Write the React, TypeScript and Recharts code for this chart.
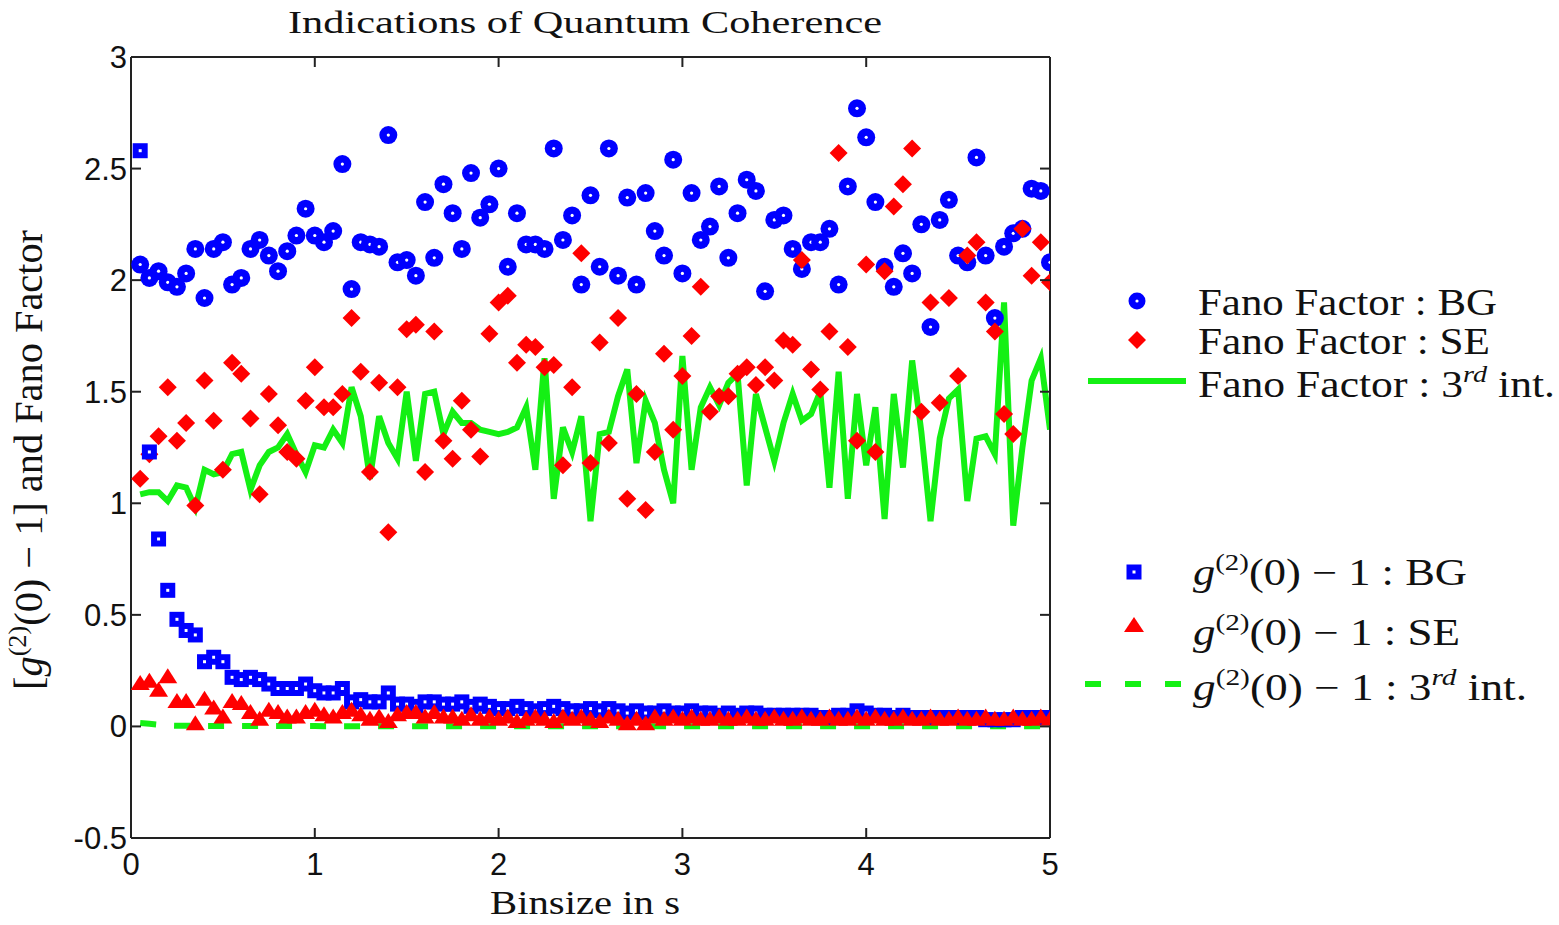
import { ComposedChart, Line, Scatter, XAxis, YAxis } from "recharts";

const binStep = 0.05;

const fanoBG = [
  2.07, 2.01, 2.04, 1.99, 1.97, 2.03, 2.14, 1.92, 2.14, 2.17,
  1.98, 2.01, 2.14, 2.18, 2.11, 2.04, 2.13, 2.2, 2.32, 2.2,
  2.17, 2.22, 2.52, 1.96, 2.17, 2.16, 2.15, 2.65, 2.08, 2.09,
  2.02, 2.35, 2.1, 2.43, 2.3, 2.14, 2.48, 2.28, 2.34, 2.5,
  2.06, 2.3, 2.16, 2.16, 2.14, 2.59, 2.18, 2.29, 1.98, 2.38,
  2.06, 2.59, 2.02, 2.37, 1.98, 2.39, 2.22, 2.11, 2.54, 2.03,
  2.39, 2.18, 2.24, 2.42, 2.1, 2.3, 2.45, 2.4, 1.95, 2.27,
  2.29, 2.14, 2.05, 2.17, 2.17, 2.23, 1.98, 2.42, 2.77, 2.64,
  2.35, 2.06, 1.97, 2.12, 2.03, 2.25, 1.79, 2.27, 2.36, 2.11,
  2.08, 2.55, 2.11, 1.83, 2.15, 2.21, 2.23, 2.41, 2.4, 2.08
];

const fanoSE = [
  1.11, 1.22, 1.3, 1.52, 1.28, 1.36, 0.99, 1.55, 1.37, 1.15,
  1.63, 1.58, 1.38, 1.04, 1.49, 1.35, 1.23, 1.2, 1.46, 1.61,
  1.43, 1.43, 1.49, 1.83, 1.59, 1.14, 1.54, 0.87, 1.52, 1.78,
  1.8, 1.14, 1.77, 1.28, 1.2, 1.46, 1.33, 1.21, 1.76, 1.9,
  1.93, 1.63, 1.71, 1.7, 1.61, 1.62, 1.17, 1.52, 2.12, 1.18,
  1.72, 1.27, 1.83, 1.02, 1.49, 0.97, 1.23, 1.67, 1.33, 1.57,
  1.75, 1.97, 1.41, 1.48, 1.48, 1.58, 1.61, 1.53, 1.61, 1.55,
  1.73, 1.71, 2.09, 1.6, 1.51, 1.77, 2.57, 1.7, 1.28, 2.07,
  1.23, 2.04, 2.33, 2.43, 2.59, 1.41, 1.9, 1.45, 1.92, 1.57,
  2.11, 2.17, 1.9, 1.77, 1.4, 1.31, 2.23, 2.02, 2.17, 1.99
];

const fano3rd = [
  1.04, 1.05, 1.05, 1.01, 1.08, 1.07, 0.98, 1.15, 1.13, 1.14,
  1.22, 1.23, 1.06, 1.17, 1.23, 1.25, 1.31, 1.22, 1.14, 1.26,
  1.25, 1.33, 1.27, 1.52, 1.39, 1.11, 1.39, 1.27, 1.2, 1.5,
  1.19, 1.49, 1.5, 1.31, 1.41, 1.36, 1.36, 1.33, 1.32, 1.31,
  1.32, 1.34, 1.43, 1.15, 1.65, 1.02, 1.34, 1.23, 1.39, 0.92,
  1.31, 1.32, 1.48, 1.6, 1.18, 1.46, 1.36, 1.15, 1.0, 1.66,
  1.15, 1.43, 1.52, 1.44, 1.54, 1.58, 1.08, 1.49, 1.34, 1.19,
  1.36, 1.49, 1.37, 1.4, 1.5, 1.07, 1.59, 1.02, 1.49, 1.17,
  1.43, 0.93, 1.49, 1.16, 1.64, 1.32, 0.92, 1.29, 1.47, 1.51,
  1.01, 1.29, 1.3, 1.22, 1.9, 0.9, 1.25, 1.55, 1.65, 1.33
];

const g2BG = [
  2.58, 1.23, 0.84, 0.61, 0.48, 0.43, 0.41, 0.29, 0.31, 0.29,
  0.22, 0.21, 0.22, 0.21, 0.19, 0.17, 0.17, 0.17, 0.19, 0.16,
  0.15, 0.15, 0.17, 0.11, 0.12, 0.11, 0.11, 0.15, 0.1, 0.1,
  0.09, 0.11, 0.11, 0.1, 0.1, 0.11, 0.09, 0.1, 0.09, 0.08,
  0.08, 0.09, 0.08, 0.07, 0.08, 0.09, 0.08, 0.07, 0.07, 0.08,
  0.07, 0.08, 0.07, 0.06, 0.07, 0.06, 0.06, 0.07, 0.06, 0.06,
  0.07, 0.06, 0.06, 0.05, 0.06, 0.05, 0.06, 0.06, 0.05, 0.05,
  0.05, 0.05, 0.05, 0.05, 0.04, 0.04, 0.05, 0.05, 0.07, 0.06,
  0.05, 0.05, 0.04, 0.05, 0.04, 0.04, 0.04, 0.04, 0.04, 0.04,
  0.04, 0.04, 0.03, 0.03, 0.03, 0.03, 0.04, 0.04, 0.04, 0.04
];

const g2SE = [
  0.19, 0.2, 0.16, 0.22, 0.11, 0.11, 0.01, 0.12, 0.08, 0.04,
  0.11, 0.1, 0.06, 0.03, 0.07, 0.06, 0.04, 0.04, 0.06, 0.07,
  0.05, 0.04, 0.06, 0.07, 0.05, 0.03, 0.04, 0.02, 0.05, 0.06,
  0.06, 0.04, 0.06, 0.04, 0.04, 0.03, 0.05, 0.03, 0.04, 0.03,
  0.04, 0.02, 0.03, 0.04, 0.03, 0.02, 0.04, 0.03, 0.04, 0.03,
  0.02, 0.04, 0.03, 0.01, 0.03, 0.01, 0.04, 0.03, 0.04, 0.03,
  0.04, 0.03, 0.03, 0.04, 0.03, 0.03, 0.04, 0.03, 0.03, 0.04,
  0.03, 0.03, 0.04, 0.03, 0.03, 0.04, 0.03, 0.03, 0.04, 0.03,
  0.04, 0.03, 0.03, 0.04, 0.03, 0.03, 0.04, 0.03, 0.03, 0.04,
  0.03, 0.03, 0.04, 0.03, 0.03, 0.04, 0.03, 0.03, 0.04, 0.03
];

const g23rd = [
  0.015, 0.012, 0.008, 0.004, 0.003, 0.003, 0.002, 0.002, 0.002, 0.002,
  0.002, 0.002, 0.002, 0.002, 0.002, 0.002, 0.002, 0.002, 0.002, 0.002,
  0.001, 0.001, 0.001, 0.001, 0.001, 0.001, 0.001, 0.001, 0.001, 0.001,
  0.001, 0.001, 0.001, 0.001, 0.001, 0.001, 0.001, 0.001, 0.001, 0.001,
  0.001, 0.001, 0.001, 0.001, 0.001, 0.001, 0.001, 0.001, 0.001, 0.001,
  0.001, 0.001, 0.001, 0.001, 0.001, 0.001, 0.001, 0.001, 0.001, 0.001,
  0.001, 0.001, 0.001, 0.001, 0.001, 0.001, 0.001, 0.001, 0.001, 0.001,
  0.001, 0.001, 0.001, 0.001, 0.001, 0.001, 0.001, 0.001, 0.001, 0.001,
  0.001, 0.001, 0.001, 0.001, 0.001, 0.001, 0.001, 0.001, 0.001, 0.001,
  0.001, 0.001, 0.001, 0.001, 0.001, 0.001, 0.001, 0.001, 0.001, 0.001
];

const xTicks = [0, 1, 2, 3, 4, 5];
const yTicks = [-0.5, 0, 0.5, 1, 1.5, 2, 2.5, 3];

const rows = fanoBG.map((v, i) => ({
  x: Number((binStep * (i + 1)).toFixed(2)),
  fanoBG: v,
  fanoSE: fanoSE[i],
  fano3rd: fano3rd[i],
  g2BG: g2BG[i],
  g2SE: g2SE[i],
  g23rd: g23rd[i]
}));

const BLUE = "#0000ff";
const RED = "#ff0000";
const GREEN = "#14f014";
const AXIS = "#222";
const SANS = "'Liberation Sans', Arial, sans-serif";
const SERIF = "'Liberation Serif', 'Times New Roman', serif";
const TICK_IN = 10;

function Ring({ cx, cy }: any) {
  return (
    <g>
      <circle cx={cx} cy={cy} r={9} fill={BLUE} />
      <circle cx={cx} cy={cy} r={1.6} fill="#fff" />
    </g>
  );
}

function Diamond({ cx, cy }: any) {
  const r = 9;
  return <path d={`M${cx},${cy - r}L${cx + r},${cy}L${cx},${cy + r}L${cx - r},${cy}Z`} fill={RED} />;
}

function Square({ cx, cy }: any) {
  return (
    <g>
      <rect x={cx - 7.5} y={cy - 7.5} width={15} height={15} fill={BLUE} />
      <rect x={cx - 1.5} y={cy - 1.5} width={3} height={3} fill="#fff" />
    </g>
  );
}

function Triangle({ cx, cy }: any) {
  return <path d={`M${cx},${cy - 9}L${cx + 9.5},${cy + 6}L${cx - 9.5},${cy + 6}Z`} fill={RED} />;
}

function LeftTick({ x, y, payload }: any) {
  return (
    <g>
      <line x1={x} x2={x + TICK_IN} y1={y} y2={y} stroke={AXIS} strokeWidth={2} />
      <text x={x - 4} y={y} dy={11} textAnchor="end" fontFamily={SANS} fontSize={31} fill="#111">
        {payload.value}
      </text>
    </g>
  );
}

function RightTick({ x, y }: any) {
  return <line x1={x - TICK_IN} x2={x} y1={y} y2={y} stroke={AXIS} strokeWidth={2} />;
}

function BottomTick({ x, y, payload }: any) {
  return (
    <g>
      <line x1={x} x2={x} y1={y} y2={y - TICK_IN} stroke={AXIS} strokeWidth={2} />
      <text x={x} y={y + 37} textAnchor="middle" fontFamily={SANS} fontSize={31} fill="#111">
        {payload.value}
      </text>
    </g>
  );
}

function TopTick({ x, y }: any) {
  return <line x1={x} x2={x} y1={y} y2={y + TICK_IN} stroke={AXIS} strokeWidth={2} />;
}

function Overlay() {
  const txt = { fontFamily: SERIF, fill: "#111" };
  return (
    <svg width={1559} height={925} style={{ position: "absolute", left: 0, top: 0, pointerEvents: "none" }}>
      <text x={585} y={33} textAnchor="middle" fontSize={32} textLength={594} lengthAdjust="spacingAndGlyphs" {...txt}>
        Indications of Quantum Coherence
      </text>
      <text x={585} y={914} textAnchor="middle" fontSize={34} textLength={190} lengthAdjust="spacingAndGlyphs" {...txt}>
        Binsize in s
      </text>
      <text
        x={42}
        y={460}
        transform="rotate(-90 42 460)"
        textAnchor="middle"
        fontSize={40}
        textLength={460}
        lengthAdjust="spacingAndGlyphs"
        {...txt}
      >
        [<tspan fontStyle="italic">g</tspan>
        <tspan fontSize={26} dy={-16}>(2)</tspan>
        <tspan dy={16}>(0) − 1] and Fano Factor</tspan>
      </text>

      {/* legend: upper group */}
      <circle cx={1137} cy={301} r={8.5} fill={BLUE} />
      <circle cx={1137} cy={301} r={1.6} fill="#fff" />
      <text x={1198} y={315} fontSize={37} textLength={299} lengthAdjust="spacingAndGlyphs" {...txt}>
        Fano Factor :  BG
      </text>
      <path d="M1137,331L1146,340L1137,349L1128,340Z" fill={RED} />
      <text x={1198} y={354} fontSize={37} textLength={292} lengthAdjust="spacingAndGlyphs" {...txt}>
        Fano Factor :  SE
      </text>
      <line x1={1088} x2={1186} y1={381} y2={381} stroke={GREEN} strokeWidth={6} />
      <text x={1198} y={397} fontSize={37} textLength={357} lengthAdjust="spacingAndGlyphs" {...txt}>
        Fano Factor :  3<tspan fontSize={24} fontStyle="italic" dy={-15}>rd</tspan>
        <tspan dy={15}> int.</tspan>
      </text>

      {/* legend: lower group */}
      <rect x={1126.5} y={564.5} width={15} height={15} fill={BLUE} />
      <rect x={1132.5} y={570.5} width={3} height={3} fill="#fff" />
      <text x={1193} y={585} fontSize={37} textLength={274} lengthAdjust="spacingAndGlyphs" {...txt}>
        <tspan fontStyle="italic">g</tspan>
        <tspan fontSize={24} dy={-15}>(2)</tspan>
        <tspan dy={15}>(0) − 1  :  BG</tspan>
      </text>
      <path d="M1134,617L1144,632L1124,632Z" fill={RED} />
      <text x={1193} y={645} fontSize={37} textLength={267} lengthAdjust="spacingAndGlyphs" {...txt}>
        <tspan fontStyle="italic">g</tspan>
        <tspan fontSize={24} dy={-15}>(2)</tspan>
        <tspan dy={15}>(0) − 1  :  SE</tspan>
      </text>
      <line x1={1085} x2={1183} y1={684} y2={684} stroke={GREEN} strokeWidth={6} strokeDasharray="16 24" />
      <text x={1193} y={700} fontSize={37} textLength={334} lengthAdjust="spacingAndGlyphs" {...txt}>
        <tspan fontStyle="italic">g</tspan>
        <tspan fontSize={24} dy={-15}>(2)</tspan>
        <tspan dy={15}>(0) − 1  :  3</tspan>
        <tspan fontSize={24} fontStyle="italic" dy={-15}>rd</tspan>
        <tspan dy={15}> int.</tspan>
      </text>
    </svg>
  );
}

export default function App() {
  return (
    <div style={{ position: "absolute", left: 0, top: 0, width: 1559, height: 925, background: "#fff" }}>
      <ComposedChart
        width={1559}
        height={925}
        data={rows}
        margin={{ top: 56, right: 508, bottom: 47, left: 71 }}
      >
        <XAxis
          dataKey="x"
          type="number"
          domain={[0, 5]}
          ticks={xTicks}
          allowDataOverflow
          height={40}
          tickSize={0}
          tickMargin={0}
          tickLine={false}
          axisLine={{ stroke: AXIS, strokeWidth: 2 }}
          tick={<BottomTick />}
        />
        <XAxis
          xAxisId="top"
          orientation="top"
          dataKey="x"
          type="number"
          domain={[0, 5]}
          ticks={xTicks}
          allowDataOverflow
          height={1}
          tickSize={0}
          tickMargin={0}
          tickLine={false}
          axisLine={{ stroke: AXIS, strokeWidth: 2 }}
          tick={<TopTick />}
        />
        <YAxis
          type="number"
          domain={[-0.5, 3]}
          ticks={yTicks}
          allowDataOverflow
          width={60}
          tickSize={0}
          tickMargin={0}
          tickLine={false}
          axisLine={{ stroke: AXIS, strokeWidth: 2 }}
          tick={<LeftTick />}
        />
        <YAxis
          yAxisId="right"
          orientation="right"
          type="number"
          domain={[-0.5, 3]}
          ticks={yTicks}
          allowDataOverflow
          width={1}
          tickSize={0}
          tickMargin={0}
          tickLine={false}
          axisLine={{ stroke: AXIS, strokeWidth: 2 }}
          tick={<RightTick />}
        />
        <Scatter dataKey="fanoBG" shape={<Ring />} isAnimationActive={false} />
        <Scatter dataKey="fanoSE" shape={<Diamond />} isAnimationActive={false} />
        <Line
          dataKey="fano3rd"
          type="linear"
          stroke={GREEN}
          strokeWidth={6}
          dot={false}
          activeDot={false}
          isAnimationActive={false}
        />
        <Scatter dataKey="g2BG" shape={<Square />} isAnimationActive={false} />
        <Scatter dataKey="g2SE" shape={<Triangle />} isAnimationActive={false} />
        <Line
          dataKey="g23rd"
          type="linear"
          stroke={GREEN}
          strokeWidth={6}
          strokeDasharray="16 18"
          dot={false}
          activeDot={false}
          isAnimationActive={false}
        />
      </ComposedChart>
      <Overlay />
    </div>
  );
}
